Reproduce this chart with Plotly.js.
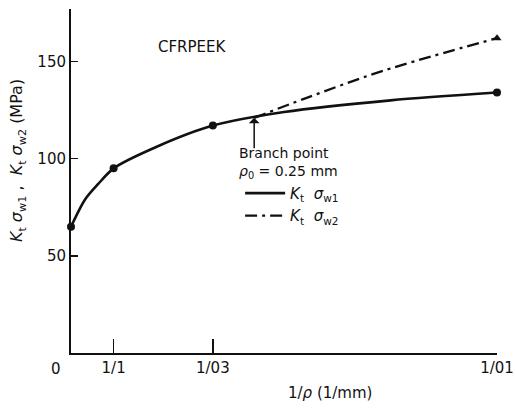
<!DOCTYPE html>
<html>
<head>
<meta charset="utf-8">
<script src="https://cdn.plot.ly/plotly-3.0.1.min.js"></script>
<style>html,body{margin:0;padding:0;background:#fff;}#chart{width:515px;height:408px;}</style>
</head>
<body>
<div id="chart"></div>
<script>
// Curve K_t sigma_w1 (solid)
const invRhoW1 = [0, 0.33, 0.64, 1, 2, 3.33, 5, 7.5, 10];
const ktSigmaW1 = [65, 79, 87, 95, 106, 117, 124, 130, 134];
// Measured points (filled circles)
const invRhoPts = [0, 1, 3.33, 10];
const ktSigmaPts = [65, 95, 117, 134];
// Curve K_t sigma_w2 (dash-dot) from the branch point
const invRhoW2 = [4.3, 5.5, 7.3, 10];
const ktSigmaW2 = [121, 131, 145, 162];
const triX = [10];
const triY = [162];
// Axis ticks
const xTickVals = [1, 3.33, 10];
const xTickText = ["1/1", "1/03", "1/01"];
const yTickVals = [50, 100, 150];
const yTickText = ["50", "100", "150"];
const branchX = 4.3, branchY = 121;

const FONT = "DejaVu Sans, Liberation Sans, sans-serif";
const ink = "#111";

const traces = [
  {x: invRhoW1, y: ktSigmaW1, mode: "lines", line: {color: ink, width: 2.6, shape: "spline", smoothing: 0.8},
   name: "<i>K</i><sub>t</sub>  <i>σ</i><sub>w1</sub>", cliponaxis: false},
  {x: invRhoW2, y: ktSigmaW2, mode: "lines", line: {color: ink, width: 2.3, dash: "12px,5px,3px,5px", shape: "spline"},
   name: "<i>K</i><sub>t</sub>  <i>σ</i><sub>w2</sub>", cliponaxis: false},
  {x: invRhoPts, y: ktSigmaPts, mode: "markers", marker: {color: ink, size: 8, symbol: "circle"},
   showlegend: false, cliponaxis: false},
  {x: triX, y: triY, mode: "markers", marker: {color: ink, size: 8, symbol: "triangle-up"},
   showlegend: false, cliponaxis: false}
];

const layout = {
  width: 515, height: 408,
  margin: {l: 71, r: 18, t: 9, b: 55},
  paper_bgcolor: "#fff", plot_bgcolor: "#fff",
  font: {family: FONT, size: 14, color: ink},
  showlegend: true,
  legend: {x: 0.397, y: 0.512, xanchor: "left", yanchor: "top", bgcolor: "rgba(0,0,0,0)",
           font: {family: FONT, size: 15, color: ink}, tracegroupgap: 0, itemwidth: 40},
  xaxis: {range: [0, 10], showgrid: false, zeroline: false, showline: true, linecolor: ink, linewidth: 2,
          ticks: "inside", ticklen: 14, tickwidth: 1.5, tickcolor: ink,
          tickvals: xTickVals, ticktext: xTickText, tickfont: {family: FONT, size: 15, color: ink}, fixedrange: true},
  yaxis: {range: [0, 177], showgrid: false, zeroline: false, showline: true, linecolor: ink, linewidth: 2,
          ticks: "inside", ticklen: 7, tickwidth: 1.5, tickcolor: ink,
          tickvals: yTickVals, ticktext: yTickText, tickfont: {family: FONT, size: 15, color: ink}, fixedrange: true},
  annotations: [
    {xref: "paper", yref: "paper", x: 0, y: 0, xanchor: "right", yanchor: "top", xshift: -8, yshift: -5,
     text: "0", showarrow: false, font: {family: FONT, size: 15, color: ink}},
    {xref: "paper", yref: "paper", x: 0.608, y: 0, xanchor: "center", yanchor: "top", yshift: -29,
     text: "1/<i>ρ</i> (1/mm)", showarrow: false, font: {family: FONT, size: 15, color: ink}},
    {xref: "paper", yref: "paper", x: -0.125, y: 0.56, xanchor: "center", yanchor: "middle", textangle: -90,
     text: "<i>K</i><sub>t</sub> <i>σ</i><sub>w1</sub> ,  <i>K</i><sub>t</sub> <i>σ</i><sub>w2</sub> (MPa)", showarrow: false,
     font: {family: FONT, size: 16, color: ink}},
    {xref: "paper", yref: "paper", x: 0.2, y: 0.89, xanchor: "left", yanchor: "middle",
     text: "CFRPEEK", showarrow: false, font: {family: FONT, size: 15, color: ink}},
    {xref: "x", yref: "y", x: branchX, y: branchY, ax: 0, ay: 32, showarrow: true, arrowhead: 1, arrowsize: 1.2,
     arrowwidth: 1.5, arrowcolor: ink, text: ""},
    {xref: "paper", yref: "paper", x: 0.39, y: 0.61, xanchor: "left", yanchor: "top", align: "left",
     text: "Branch point<br><i>ρ</i><sub>0</sub> = 0.25 mm", showarrow: false,
     font: {family: FONT, size: 14, color: ink}}
  ]
};

Plotly.newPlot("chart", traces, layout, {displayModeBar: false, staticPlot: true});
</script>
</body>
</html>
